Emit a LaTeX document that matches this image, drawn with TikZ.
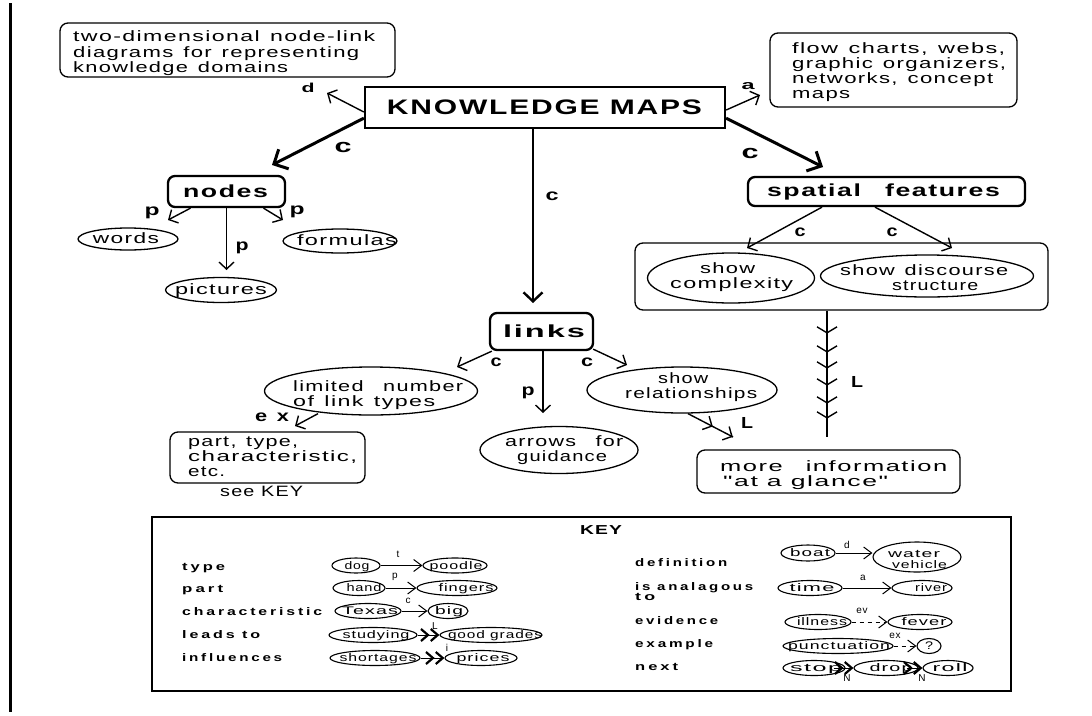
\documentclass[tikz,border=0pt]{standalone}
\usepackage{fontspec}
\usepackage{graphicx}
\usetikzlibrary{arrows.meta,shapes.geometric,calc,decorations.markings}
\setmainfont{Liberation Sans}
\newfontfamily\txt[LetterSpace=6]{Liberation Sans}
\newfontfamily\kfont[LetterSpace=18]{Liberation Sans}
% stretch a line of text horizontally to a given width (in pt)
\newcommand\hs[2]{\resizebox{#1pt}{\height}{#2}}
\newcommand\gap{\hspace{0.45em}}

\begin{document}
\begin{tikzpicture}[x=1pt, y=-1pt,
  rbox/.style={draw, rounded corners=8pt, line width=1.3pt, inner sep=0pt},
  hbox/.style={draw, rounded corners=7pt, line width=2.3pt, inner sep=0pt},
  oval/.style={draw, ellipse, line width=1.3pt, inner sep=0pt},
  koval/.style={draw, ellipse, line width=1.1pt, inner sep=0pt, minimum height=15pt},
  tx/.style={inner sep=0pt, font=\txt\fontsize{15pt}{18pt}\selectfont},
  hd/.style={inner sep=0pt, font=\txt\bfseries\fontsize{17.5pt}{20pt}\selectfont},
  lb/.style={inner sep=0pt, font=\txt\bfseries\fontsize{16pt}{18pt}\selectfont},
  kt/.style={inner sep=0pt, font=\txt\fontsize{11pt}{13pt}\selectfont},
  ks/.style={inner sep=0pt, font=\txt\fontsize{10pt}{12pt}\selectfont},
  kl/.style={inner sep=0pt, font=\kfont\bfseries\fontsize{11pt}{13pt}\selectfont},
  arr/.style={line width=1.4pt, -{Straight Barb[length=7pt,width=15pt]}},
  bigarr/.style={line width=3pt, -{Straight Barb[length=11pt,width=22pt]}},
  midarr/.style={line width=2.4pt, -{Straight Barb[length=9pt,width=19pt]}},
  karr/.style={line width=1pt, -{Straight Barb[length=8pt,width=12pt]}},
  kdash/.style={line width=1pt, dash pattern=on 4pt off 4pt, -{Straight Barb[length=8pt,width=12pt]}},
  kdbl/.style={line width=1pt, -{Straight Barb[length=7pt,width=12pt,line width=2.2pt]Straight Barb[length=7pt,width=12pt,line width=2.2pt]}},
]
\fill[white] (0,0) rectangle (1092,715);
\useasboundingbox (0,0) rectangle (1092,715);

% page rule on the left
\coordinate (ruleT) at (10,3);
\coordinate (ruleB) at (10,712);
\draw[line width=3pt] (ruleT) -- (ruleB);

% ---------- boxes and ovals ----------
\node[draw, line width=2.3pt, inner sep=0pt, minimum width=360, minimum height=41] (km) at (545,107.5) {};
\node[rbox, minimum width=335, minimum height=54] (defbox) at (227.5,50) {};
\node[rbox, minimum width=247, minimum height=74] (alsobox) at (893.5,70) {};
\node[hbox, minimum width=117, minimum height=31] (nodes) at (226.5,191.5) {};
\node[oval, minimum width=100, minimum height=22] (words) at (128,239) {};
\node[oval, minimum width=114, minimum height=24] (formulas) at (340,241) {};
\node[oval, minimum width=111, minimum height=25] (pictures) at (221,290) {};
\node[hbox, minimum width=103, minimum height=37] (links) at (541.5,331.5) {};
\node[oval, minimum width=213, minimum height=48] (limited) at (371,391) {};
\node[rbox, minimum width=195, minimum height=51] (partbox) at (267.5,457.5) {};
\node[oval, minimum width=158, minimum height=47] (guide) at (559,450) {};
\node[oval, minimum width=190, minimum height=46] (rel) at (682,390) {};
\node[hbox, minimum width=277, minimum height=29] (spatial) at (886.5,191.5) {};
\node[rbox, minimum width=413, minimum height=67] (group) at (841.5,276.5) {};
\node[oval, minimum width=167, minimum height=50] (cx) at (731,278) {};
\node[oval, minimum width=213, minimum height=42] (dis) at (927,276) {};
\node[rbox, minimum width=263, minimum height=43] (more) at (828.5,471.5) {};

% ---------- texts ----------
\node[tx, anchor=base west] (def1) at (73,41.7) {\hs{302}{two-dimensional\gap node-link}};
\node[tx, anchor=base west] (def2) at (73,57) {\hs{286}{diagrams\gap for\gap representing}};
\node[tx, anchor=base west] (def3) at (73,72) {\hs{215}{knowledge\gap domains}};
\node[tx, anchor=base west] (also1) at (792,53) {\hs{213}{flow\gap charts,\gap webs,}};
\node[tx, anchor=base west] (also2) at (792,68.3) {\hs{214}{graphic\gap organizers,}};
\node[tx, anchor=base west] (also3) at (792,83.3) {\hs{201}{networks,\gap concept}};
\node[tx, anchor=base west] (also4) at (792,98.5) {\hs{58}{maps}};
\node[hd, font=\txt\bfseries\fontsize{21pt}{24pt}\selectfont, anchor=base] (kmT) at (544.5,114) {\hs{315}{KNOWLEDGE MAPS}};
\node[hd, anchor=base] (nodesT) at (225.5,197.3) {\hs{85}{nodes}};
\node[hd, anchor=base] (linksT) at (544,337.3) {\hs{82}{links}};
\node[hd, anchor=base] (spatialT) at (883.5,196.7) {\hs{233}{spatial\gap\gap features}};
\node[tx, anchor=base] (wordsT) at (126,243.5) {\hs{66}{words}};
\node[tx, anchor=base] (formulasT) at (347,245) {\hs{100}{formulas}};
\node[tx, anchor=base] (picturesT) at (221,294) {\hs{92}{pictures}};
\node[tx, anchor=base west] (lim1) at (293,391) {\hs{170}{limited\gap\gap number}};
\node[tx, anchor=base west] (lim2) at (293,406) {\hs{142}{of\gap link\gap types}};
\node[tx, anchor=base west] (part1) at (188,446.7) {\hs{110}{part,\gap type,}};
\node[tx, anchor=base west] (part2) at (188,461.7) {\hs{169}{characteristic,}};
\node[tx, anchor=base west] (part3) at (188,476.7) {\hs{37}{etc.}};
\node[tx, anchor=base west] (seekey) at (220,496.7) {\hs{83}{see KEY}};
\node[tx, anchor=base west] (guide1) at (505,446.7) {\hs{118}{arrows\gap\gap for}};
\node[tx, anchor=base west] (guide2) at (517,461.7) {\hs{90}{guidance}};
\node[tx, anchor=base west] (rel1) at (658,383.3) {\hs{50}{show}};
\node[tx, anchor=base west] (rel2) at (625,398.3) {\hs{132}{relationships}};
\node[tx, anchor=base west] (cx1) at (700,273.3) {\hs{55}{show}};
\node[tx, anchor=base west] (cx2) at (670,288.3) {\hs{123}{complexity}};
\node[tx, anchor=base west] (dis1) at (840,275) {\hs{168}{show\gap discourse}};
\node[tx, anchor=base west] (dis2) at (892,290.7) {\hs{86}{structure}};
\node[tx, anchor=base west] (more1) at (720,471.7) {\hs{227}{more\gap\gap information}};
\node[tx, anchor=base west] (more2) at (723,486.7) {\hs{165}{"at a glance"}};

% ---------- connectors of the map ----------
\coordinate (dTip) at (327,93);
\coordinate (aTip) at (760,95);
\coordinate (cLTip) at (272,165);
\coordinate (cRTip) at (823,167);
\coordinate (cCTip) at (533,303);
\draw[arr] ($(km.west)+(0,4.5)$) -- (dTip);
\draw[arr] ($(km.east)+(0,2.5)$) -- (aTip);
\draw[bigarr] ($(km.south west)+(0,-11)$) -- (cLTip);
\draw[bigarr] ($(km.south east)+(0,-11)$) -- (cRTip);
\draw[midarr] ($(km.south)+(-12,0)$) -- (cCTip);

\coordinate (pLTip) at (168,220);
\coordinate (pRTip) at (283,220);
\coordinate (pDTip) at (226.5,270);
\draw[arr] ($(nodes.south)+(-36,0)$) -- (pLTip);
\draw[arr] ($(nodes.south)+(37,0)$) -- (pRTip);
\draw[arr] (nodes.south) -- (pDTip);

\coordinate (lcLTip) at (457,367);
\coordinate (lpTip) at (543,413);
\coordinate (lcRTip) at (627,365);
\draw[arr] ($(links.south west)+(3,0)$) -- (lcLTip);
\draw[arr] ($(links.south)+(1.5,0)$) -- (lpTip);
\draw[arr] ($(links.south east)+(-1,-2)$) -- (lcRTip);

\coordinate (exTip) at (295,426);
\draw[arr] ($(limited.south)+(-53,-2)$) -- (exTip);

\coordinate (relTip) at (733,437);
\draw[line width=1.4pt, postaction={decorate}, decoration={markings,
   mark=at position 0.55 with {\arrow{Straight Barb[length=7pt,width=15pt]}},
   mark=at position 0.995 with {\arrow{Straight Barb[length=7pt,width=15pt]}}}]
   ($(rel.south)+(6,0)$) -- (relTip);

\coordinate (sLTip) at (747,248);
\coordinate (sRTip) at (952,248);
\draw[arr] ($(spatial.south)+(-64.5,0)$) -- (sLTip);
\draw[arr] ($(spatial.south)+(-11.5,0)$) -- (sRTip);

\coordinate (moreTip) at (827,437);
\draw[line width=1.4pt, postaction={decorate}, decoration={markings,
   mark=at position 23pt with {\arrow{Straight Barb[length=6pt,width=20pt]}},
   mark=at position 42pt with {\arrow{Straight Barb[length=6pt,width=20pt]}},
   mark=at position 58pt with {\arrow{Straight Barb[length=6pt,width=20pt]}},
   mark=at position 75pt with {\arrow{Straight Barb[length=6pt,width=20pt]}},
   mark=at position 93pt with {\arrow{Straight Barb[length=6pt,width=20pt]}},
   mark=at position 108pt with {\arrow{Straight Barb[length=6pt,width=20pt]}},
   mark=at position 126.5pt with {\arrow{Straight Barb[length=6pt,width=20pt]}}}]
   ($(group.south)+(-14.5,0)$) -- (moreTip);

% ---------- link labels ----------
\node[lb, font=\txt\bfseries\fontsize{13pt}{15pt}\selectfont] (ld) at (308,88) {\hs{13}{d}};
\node[lb, font=\txt\bfseries\fontsize{13pt}{15pt}\selectfont] (la) at (748,86) {\hs{13}{a}};
\node[lb, font=\txt\bfseries\fontsize{19pt}{21pt}\selectfont] (lc1) at (343,147) {\hs{17}{c}};
\node[lb, font=\txt\bfseries\fontsize{19pt}{21pt}\selectfont] (lc2) at (750,153) {\hs{17}{c}};
\node[lb] (lc3) at (552,196) {\hs{13}{c}};
\node[lb] (lp1) at (152,213) {\hs{15}{p}};
\node[lb] (lp2) at (297,212) {\hs{15}{p}};
\node[lb] (lp3) at (242,248) {\hs{13}{p}};
\node[lb] (lc4) at (496,362) {\hs{11}{c}};
\node[lb] (lp4) at (528,393) {\hs{13}{p}};
\node[lb] (lc5) at (587,362) {\hs{12}{c}};
\node[lb] (lex) at (272,417) {\hs{34}{e\gap x}};
\node[lb] (lL1) at (747,423) {\hs{12}{L}};
\node[lb] (lc6) at (800,232) {\hs{11}{c}};
\node[lb] (lc7) at (892,232) {\hs{11}{c}};
\node[lb] (lL2) at (857,382) {\hs{12}{L}};

% ---------- key ----------
\node[draw, line width=1.5pt, inner sep=0pt, minimum width=859, minimum height=174] (keybox) at (581.5,604) {};
\node[inner sep=0pt, font=\txt\bfseries\fontsize{13pt}{15pt}\selectfont, anchor=base] (keyT) at (601,534) {\hs{42}{KEY}};

\node[kl, anchor=base west] (k1) at (182,570) {\hs{43}{type}};
\node[kl, anchor=base west] (k2) at (182,592.7) {\hs{41}{part}};
\node[kl, anchor=base west] (k3) at (182,615) {\hs{140}{characteristic}};
\node[kl, anchor=base west] (k4) at (182,638) {\hs{78}{leads\gap to}};
\node[kl, anchor=base west] (k5) at (182,661) {\hs{100}{influences}};
\node[kl, anchor=base west] (k6) at (635,566) {\hs{92}{definition}};
\node[kl, anchor=base west] (k7) at (635,590) {\hs{118}{is\gap analagous}};
\node[kl, anchor=base west] (k7b) at (635,600.7) {\hs{20}{to}};
\node[kl, anchor=base west] (k8) at (635,624) {\hs{83}{evidence}};
\node[kl, anchor=base west] (k9) at (635,647.3) {\hs{78}{example}};
\node[kl, anchor=base west] (k10) at (635,670) {\hs{43}{next}};

% key examples
\node[koval, minimum width=48] (dog) at (356,565.5) {};
\node[koval, minimum width=64] (poodle) at (455,565.5) {};
\node[koval, minimum width=52] (hand) at (359,588) {};
\node[koval, minimum width=80] (fingers) at (457,588) {};
\node[koval, minimum width=66] (texas) at (368,611) {};
\node[koval, minimum width=40] (big) at (448,611) {};
\node[koval, minimum width=88] (studying) at (373,635) {};
\node[koval, minimum width=102] (grades) at (491,635) {};
\node[koval, minimum width=90] (shortages) at (375,658) {};
\node[koval, minimum width=72] (prices) at (481,658) {};
\node[koval, minimum width=54, minimum height=16] (boat) at (808,553) {};
\node[koval, minimum width=88, minimum height=30] (water) at (917,557) {};
\node[koval, minimum width=64] (time) at (810,588) {};
\node[koval, minimum width=60] (river) at (922,588) {};
\node[koval, minimum width=66] (illness) at (818,622) {};
\node[koval, minimum width=64] (fever) at (920,622) {};
\node[koval, minimum width=110] (punct) at (838,646) {};
\node[koval, minimum width=24] (qm) at (929,646) {};
\node[koval, minimum width=62] (stop) at (814,668) {};
\node[koval, minimum width=64] (drop) at (886,668) {};
\node[koval, minimum width=50] (roll) at (948,668) {};

\node[kt, anchor=base] (dogT) at (357,569) {\hs{25}{dog}};
\node[kt, anchor=base] (poodleT) at (456,569) {\hs{53}{poodle}};
\node[kt, anchor=base] (handT) at (364,591.5) {\hs{35}{hand}};
\node[kt, anchor=base] (fingersT) at (466,591.5) {\hs{55}{fingers}};
\node[kt, anchor=base] (texasT) at (370,614.5) {\hs{56}{Texas}};
\node[kt, anchor=base] (bigT) at (449,614.5) {\hs{28}{big}};
\node[kt, anchor=base] (studyingT) at (376,638.5) {\hs{67}{studying}};
\node[kt, anchor=base] (gradesT) at (495,638.5) {\hs{94}{good grades}};
\node[kt, anchor=base] (shortagesT) at (378,661.5) {\hs{77}{shortages}};
\node[kt, anchor=base] (pricesT) at (483,661.5) {\hs{53}{prices}};
\node[kt, anchor=base] (boatT) at (810,556.5) {\hs{40}{boat}};
\node[kt, anchor=base] (waterT) at (914,557) {\hs{52}{water}};
\node[kt, anchor=base] (vehicleT) at (919.5,568) {\hs{55}{vehicle}};
\node[kt, anchor=base] (timeT) at (812,591.5) {\hs{45}{time}};
\node[kt, anchor=base] (riverT) at (931,591.5) {\hs{32}{river}};
\node[kt, anchor=base] (illnessT) at (822,625.5) {\hs{50}{illness}};
\node[kt, anchor=base] (feverT) at (924,625.5) {\hs{45}{fever}};
\node[kt, anchor=base] (punctT) at (839,649.5) {\hs{102}{punctuation}};
\node[kt, anchor=base] (qmT) at (929,649.5) {\hs{8}{?}};
\node[kt, anchor=base] (stopT) at (816,671.5) {\hs{52}{stop}};
\node[kt, anchor=base] (dropT) at (891,671.5) {\hs{43}{drop}};
\node[kt, anchor=base] (rollT) at (950,671.5) {\hs{35}{roll}};

\draw[karr] (dog.east) -- (poodle.west);
\draw[karr] (hand.east) -- (fingers.west);
\draw[karr] (texas.east) -- (big.west);
\draw[kdbl] (studying.east) -- (grades.west);
\draw[kdbl] (shortages.east) -- (prices.west);
\draw[karr] (boat.east) -- (boat.east -| water.west);
\draw[karr] (time.east) -- (river.west);
\draw[kdash] (illness.east) -- (fever.west);
\draw[kdash] (punct.east) -- (qm.west);
\draw[kdbl] ($(stop.east)+(-12,0)$) -- (drop.west);
\draw[kdbl] ($(drop.east)+(-12,0)$) -- (roll.west);

\node[ks] (kt1) at (398,554) {t};
\node[ks] (kt2) at (395,577) {p};
\node[ks] (kt3) at (408,601) {c};
\node[ks] (kt4) at (435,626) {L};
\node[ks] (kt5) at (447,648) {i};
\node[ks] (kt6) at (847,545) {d};
\node[ks] (kt7) at (863,578) {a};
\node[ks] (kt8) at (862,611) {ev};
\node[ks] (kt9) at (895,636) {ex};
\node[ks] (kt10) at (847,678) {N};
\node[ks] (kt11) at (922,678) {N};
\end{tikzpicture}
\end{document}
